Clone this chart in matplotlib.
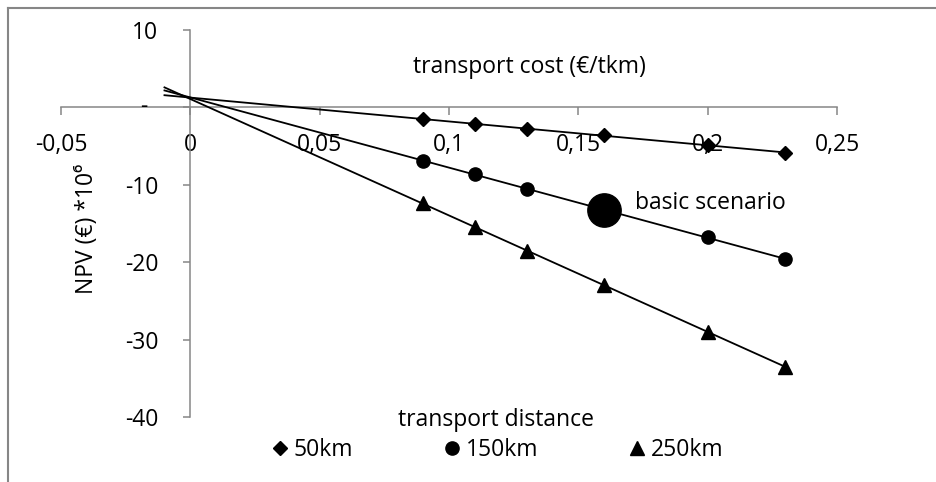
import numpy as np
import matplotlib
matplotlib.use("Agg")
import matplotlib.pyplot as plt
from matplotlib.ticker import FuncFormatter, MultipleLocator
from matplotlib.lines import Line2D

plt.rcParams['font.family'] = ['Open Sans', 'DejaVu Sans']
plt.rcParams['font.size'] = 16.5

# ---- data ----
transport_cost = [0.09, 0.11, 0.13, 0.16, 0.20, 0.23]
npv_50km = [-1.55, -2.1, -2.75, -3.6, -4.9, -5.85]
npv_150km = [-6.9, -8.6, -10.6, -13.2, -16.8, -19.6]
npv_250km = [-12.4, -15.5, -18.5, -23.0, -29.0, -33.5]
series_labels = ["50km", "150km", "250km"]
basic_index = 3
basic_label = "basic scenario"
x_title = "transport cost (€/tkm)"
y_title = "NPV (€) *10⁶"
legend_title = "transport distance"
backward_forecast = 0.01

W, H = 937, 482
fig = plt.figure(figsize=(W / 100, H / 100), dpi=100)
ax = fig.add_axes([61 / W, (H - 417) / H, 776 / W, 387 / H])

gray = "#868686"
markers = ["D", "o", "^"]
msizes = [6.8, 9.5, 10]
all_series = [npv_50km, npv_150km, npv_250km]

x = np.array(transport_cost)
for yv, lab, mk, ms in zip(all_series, series_labels, markers, msizes):
    yv = np.array(yv)
    slope, icpt = np.polyfit(x, yv, 1)
    xl = np.array([-backward_forecast, x.max()])
    ax.plot(xl, slope * xl + icpt, color="black", lw=1.3, zorder=3)
    ax.plot(x, yv, linestyle="none", marker=mk, markersize=ms, color="black",
            label=lab, zorder=4)

# basic scenario
bx = transport_cost[basic_index]
by = npv_150km[basic_index]
ax.plot([bx], [by], marker="o", markersize=24, color="black", zorder=5)
ax.annotate(basic_label, xy=(bx, by), xytext=(22, 5), textcoords="offset points",
            ha="left", va="center")

ax.set_xlim(-0.05, 0.25)
ax.set_ylim(-40, 10)
ax.xaxis.set_major_locator(MultipleLocator(0.05))
ax.yaxis.set_major_locator(MultipleLocator(10))

def xfmt(v, pos):
    s = f"{round(v, 4):g}"
    if s == "-0":
        s = "0"
    return s.replace(".", ",")

def yfmt(v, pos):
    if abs(v) < 1e-9:
        return ""
    return f"{v:g}"

ax.xaxis.set_major_formatter(FuncFormatter(xfmt))
ax.yaxis.set_major_formatter(FuncFormatter(yfmt))

for side in ["top", "right"]:
    ax.spines[side].set_visible(False)
ax.spines["left"].set_position(("data", 0))
ax.spines["bottom"].set_position(("data", 0))
for side in ["left", "bottom"]:
    ax.spines[side].set_color(gray)
    ax.spines[side].set_linewidth(1.1)
ax.tick_params(axis="x", direction="out", length=5.8, width=1.1, color=gray, pad=12.5)
ax.tick_params(axis="y", direction="out", length=5, width=1.1, color=gray, pad=18)
ax.patch.set_alpha(0)

# zero label on y axis shown as "-"
ax.annotate("-", xy=(0, 0), xycoords="data", xytext=(-31, 0), textcoords="offset points",
            ha="right", va="center")

# titles
fig.text(529 / W, 1 - 67 / H, x_title, ha="center", va="center")
fig.text(87 / W, 1 - 229 / H, y_title, ha="center", va="center", rotation=90)

leg = fig.legend(loc="upper center", bbox_to_anchor=(496 / W, 1 - 408 / H), ncol=3,
                 frameon=False, title=legend_title, handletextpad=0.1,
                 columnspacing=3.8, handlelength=1.0, borderaxespad=0,
                 borderpad=0, labelspacing=0.28, markerscale=1.0)
leg.get_title().set_fontsize(16.5)

# chart frame (top and left edges)
fig.add_artist(Line2D([8 / W, 8 / W], [0, 1 - 8 / H], transform=fig.transFigure,
                      color=gray, lw=1.5))
fig.add_artist(Line2D([8 / W, 1], [1 - 8 / H, 1 - 8 / H], transform=fig.transFigure,
                      color=gray, lw=1.5))

fig.savefig("out.png", dpi=100)
